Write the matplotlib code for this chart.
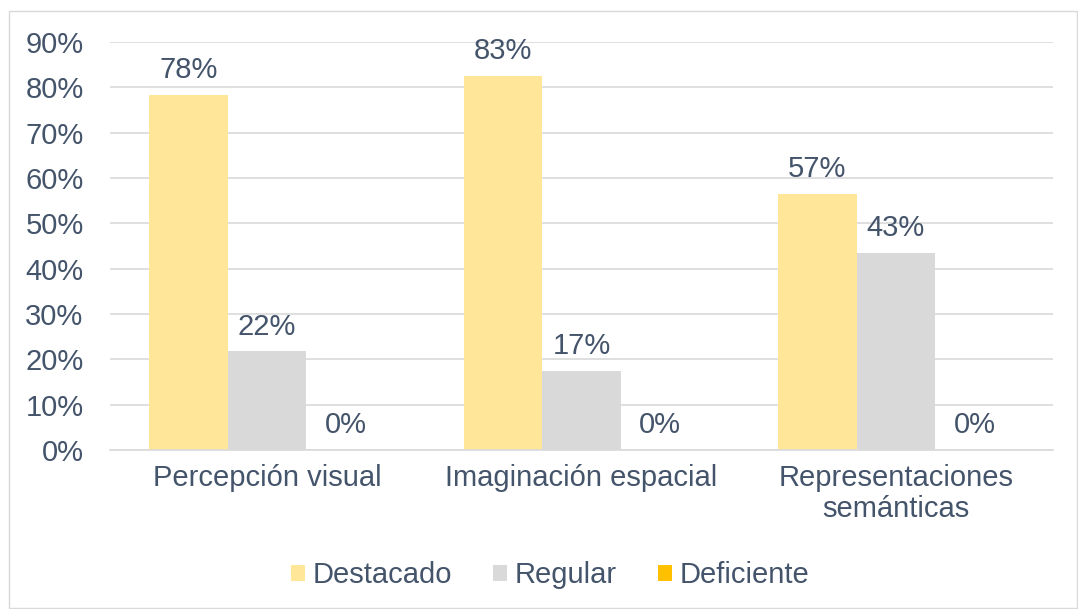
import numpy as np
import matplotlib
matplotlib.use("Agg")
import matplotlib.pyplot as plt
from matplotlib.patches import Rectangle

categories = ["Percepción visual", "Imaginación espacial", "Representaciones\nsemánticas"]
series = ["Destacado", "Regular", "Deficiente"]
destacado = [18 / 23, 19 / 23, 13 / 23]
regular = [5 / 23, 4 / 23, 10 / 23]
deficiente = [0.0, 0.0, 0.0]
colors = ["#FFE699", "#D9D9D9", "#FFC000"]
TXT = "#44546A"
FS = 21

plt.rcParams["font.family"] = ["Liberation Sans", "DejaVu Sans"]

fig = plt.figure(figsize=(10.78, 6.09), dpi=100)
fig.patches.append(Rectangle((9 / 1078, 0.002), 1 - 10 / 1078, 1 - 11 / 609 - 0.002,
                             transform=fig.transFigure, fill=False,
                             edgecolor="#D9D9D9", linewidth=1))
ax = fig.add_axes([110 / 1078, 1 - 450 / 609, 943 / 1078, 408 / 609])

x = np.arange(len(categories))
w = 0.25
for i, (name, vals) in enumerate(zip(series, [destacado, regular, deficiente])):
    pos = x + (i - 1) * w
    ax.bar(pos, vals, width=w, color=colors[i], label=name, zorder=2)
    for p, v in zip(pos, vals):
        ax.text(p, v + 0.024, f"{v:.0%}", ha="center", va="bottom",
                fontsize=FS, color=TXT)

ax.set_xlim(-0.5, 2.5)
ax.set_ylim(0, 0.9)
ax.set_yticks(np.arange(0, 0.91, 0.1))
ax.set_yticklabels([f"{int(round(t * 100))}%" for t in np.arange(0, 0.91, 0.1)])
ax.yaxis.grid(True, color="#D9D9D9", linewidth=1.2, zorder=0)
ax.set_axisbelow(True)
for s in ["top", "right", "left"]:
    ax.spines[s].set_visible(False)
ax.spines["bottom"].set_color("#D9D9D9")
ax.spines["bottom"].set_linewidth(1.2)
ax.tick_params(axis="both", length=0, labelsize=FS, labelcolor=TXT)
ax.tick_params(axis="y", pad=19)
ax.tick_params(axis="x", pad=10)
ax.set_xticks(x)
ax.set_xticklabels(categories, linespacing=1.15)

ax.legend(loc="center", bbox_to_anchor=(550 / 1078, 1 - 575 / 609),
          bbox_transform=fig.transFigure, ncol=3, frameon=False,
          fontsize=FS, labelcolor=TXT, handlelength=0.48, handleheight=0.48,
          handletextpad=0.27, columnspacing=1.4)

fig.savefig("out.png", dpi=100)
